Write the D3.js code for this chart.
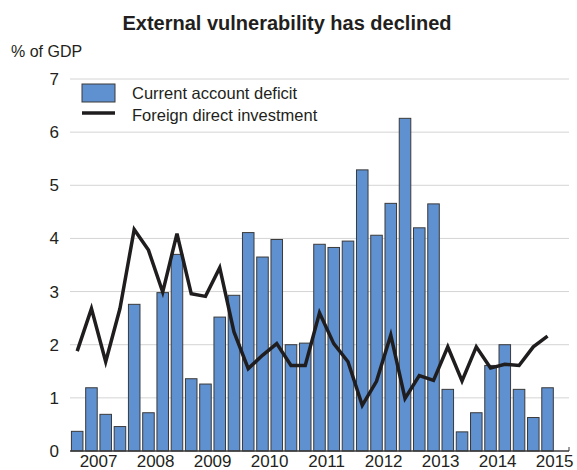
<!DOCTYPE html>
<html>
<head>
<meta charset="utf-8">
<script src="https://cdn.jsdelivr.net/npm/d3@7"></script>
<style>
  body { margin: 0; background: #fff; }
  text { font-family: "Liberation Sans", Arial, sans-serif; fill: #231f20; }
</style>
</head>
<body>
<svg id="chart" width="577" height="470"></svg>
<script>
// quarters 2007Q1 .. 2015Q3 (last slot empty)
const years = ["2007", "2008", "2009", "2010", "2011", "2012", "2013", "2014", "2015"];
const quarters = [];
years.forEach(y => ["Q1", "Q2", "Q3", "Q4"].forEach(q => quarters.push(y + q)));
const slots = quarters.slice(0, 35);

const currentAccount = [0.37, 1.19, 0.69, 0.46, 2.76, 0.72, 2.98, 3.70, 1.36, 1.26, 2.52, 2.93,
  4.11, 3.65, 3.98, 2.00, 2.03, 3.89, 3.83, 3.95, 5.29, 4.06, 4.66, 6.26, 4.20, 4.65,
  1.16, 0.36, 0.72, 1.61, 2.00, 1.16, 0.63, 1.19];
const fdi = [1.88, 2.68, 1.68, 2.68, 4.17, 3.78, 2.99, 4.09, 2.96, 2.91, 3.45, 2.24,
  1.55, 1.80, 2.02, 1.61, 1.61, 2.60, 2.02, 1.68, 0.86, 1.31, 2.18, 0.99, 1.42, 1.33,
  1.96, 1.32, 1.96, 1.56, 1.63, 1.61, 1.96, 2.16];
const yTicks = [0, 1, 2, 3, 4, 5, 6, 7];

const svg = d3.select("#chart");
const plotLeft = 70, plotRight = 569, plotTop = 79, plotBottom = 451;

const x = d3.scaleBand().domain(slots).range([plotLeft, plotRight]).paddingInner(0.19).paddingOuter(0.1);
const y = d3.scaleLinear().domain([0, 7]).range([plotBottom, plotTop]);

// title
svg.append("text")
  .attr("x", 287).attr("y", 30)
  .attr("text-anchor", "middle")
  .style("font-size", "20px").style("font-weight", "bold")
  .text("External vulnerability has declined");

svg.append("text")
  .attr("x", 11).attr("y", 57)
  .style("font-size", "16px")
  .text("% of GDP");

// gridlines
svg.append("g").selectAll("line")
  .data(yTicks.filter(d => d > 0))
  .enter().append("line")
  .attr("x1", plotLeft).attr("x2", plotRight)
  .attr("y1", d => y(d)).attr("y2", d => y(d))
  .attr("stroke", "#d4d4d4").attr("stroke-width", 1);

// y tick labels
svg.append("g").selectAll("text")
  .data(yTicks)
  .enter().append("text")
  .attr("x", 59).attr("y", d => y(d) + 6)
  .attr("text-anchor", "end")
  .style("font-size", "17px")
  .text(d => d);

// bars
svg.append("g").selectAll("rect")
  .data(currentAccount)
  .enter().append("rect")
  .attr("x", (d, i) => x(slots[i]))
  .attr("y", d => y(d))
  .attr("width", x.bandwidth())
  .attr("height", d => y(0) - y(d))
  .attr("fill", "#5f90d0")
  .attr("stroke", "#3a3a3a")
  .attr("stroke-width", 1);

// x axis line
svg.append("line")
  .attr("x1", plotLeft).attr("x2", plotRight)
  .attr("y1", plotBottom).attr("y2", plotBottom)
  .attr("stroke", "#3a3a3a").attr("stroke-width", 1.5);
svg.append("line")
  .attr("x1", plotRight).attr("x2", plotRight)
  .attr("y1", plotBottom).attr("y2", plotBottom - 4)
  .attr("stroke", "#3a3a3a").attr("stroke-width", 1);

// year labels centred on each year's quarters
const step = x.step();
svg.append("g").selectAll("text")
  .data(years)
  .enter().append("text")
  .attr("x", d => x(d + "Q1") - (step - x.bandwidth()) / 2 + step * 2)
  .attr("y", 467)
  .attr("text-anchor", "middle")
  .style("font-size", "17px")
  .text(d => d);

// FDI line
const line = d3.line()
  .x((d, i) => x(slots[i]) + x.bandwidth() / 2)
  .y(d => y(d));
svg.append("path")
  .datum(fdi)
  .attr("d", line)
  .attr("fill", "none")
  .attr("stroke", "#1f1d1e")
  .attr("stroke-width", 3.5)
  .attr("stroke-linejoin", "miter");

// legend
const legend = svg.append("g");
legend.append("rect")
  .attr("x", 82).attr("y", 84).attr("width", 33).attr("height", 18)
  .attr("fill", "#5f90d0").attr("stroke", "#3a3a3a");
legend.append("text")
  .attr("x", 132).attr("y", 99)
  .style("font-size", "16.5px")
  .text("Current account deficit");
legend.append("line")
  .attr("x1", 82).attr("x2", 115).attr("y1", 113).attr("y2", 113)
  .attr("stroke", "#1f1d1e").attr("stroke-width", 3.5);
legend.append("text")
  .attr("x", 132).attr("y", 121)
  .style("font-size", "16.5px")
  .text("Foreign direct investment");
</script>
</body>
</html>
